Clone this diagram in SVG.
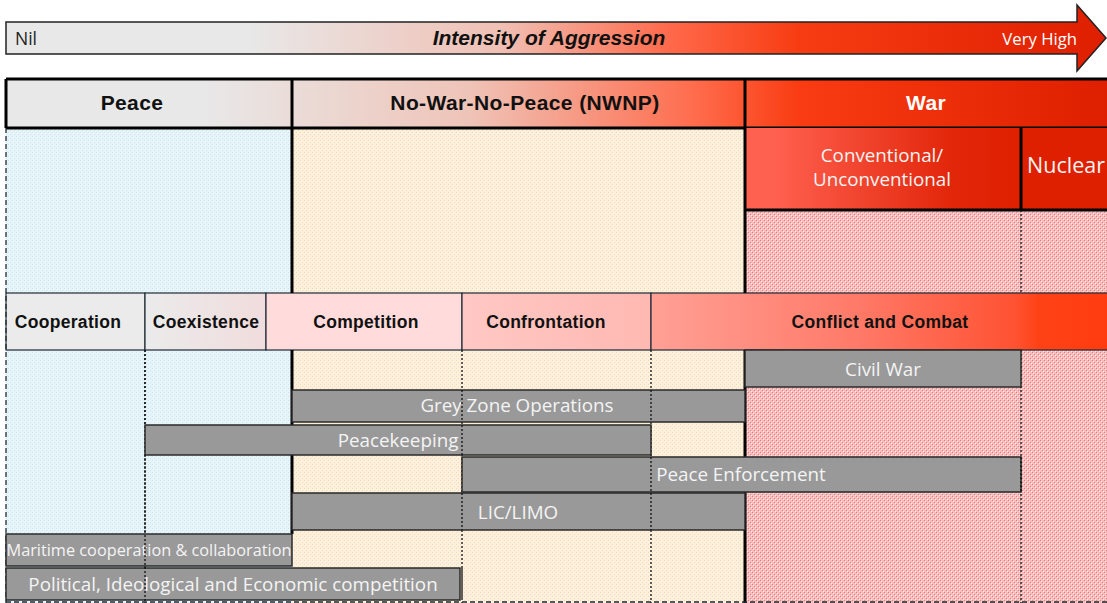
<svg xmlns="http://www.w3.org/2000/svg" width="1107" height="603" viewBox="0 0 1107 603">
  <defs>
    <linearGradient id="gArrow" gradientUnits="userSpaceOnUse" x1="6" y1="0" x2="1107" y2="0">
      <stop offset="0.22" stop-color="#e8e8e8"/>
      <stop offset="0.45" stop-color="#f0c0b4"/>
      <stop offset="0.6" stop-color="#ff6a4c"/>
      <stop offset="0.72" stop-color="#f73c12"/>
      <stop offset="1" stop-color="#de1f00"/>
    </linearGradient>
    <linearGradient id="gHead" gradientUnits="userSpaceOnUse" x1="6" y1="0" x2="1107" y2="0">
      <stop offset="0.18" stop-color="#e8e8e8"/>
      <stop offset="0.42" stop-color="#efc4b8"/>
      <stop offset="0.63" stop-color="#ff6a4a"/>
      <stop offset="0.72" stop-color="#f93c12"/>
      <stop offset="1" stop-color="#de1f00"/>
    </linearGradient>
    <linearGradient id="gConv" gradientUnits="userSpaceOnUse" x1="745" y1="0" x2="1021" y2="0">
      <stop offset="0.1" stop-color="#ff6150"/>
      <stop offset="0.75" stop-color="#e2260a"/>
      <stop offset="1" stop-color="#df2000"/>
    </linearGradient>
    <linearGradient id="gCoex" gradientUnits="userSpaceOnUse" x1="145" y1="0" x2="266" y2="0">
      <stop offset="0" stop-color="#ebebeb"/>
      <stop offset="1" stop-color="#f1dcdc"/>
    </linearGradient>
    <linearGradient id="gConf" gradientUnits="userSpaceOnUse" x1="462" y1="0" x2="651" y2="0">
      <stop offset="0" stop-color="#ffc8c4"/>
      <stop offset="1" stop-color="#ffb8b2"/>
    </linearGradient>
    <linearGradient id="gCombat" gradientUnits="userSpaceOnUse" x1="651" y1="0" x2="1107" y2="0">
      <stop offset="0" stop-color="#ffa096"/>
      <stop offset="0.45" stop-color="#ff7a68"/>
      <stop offset="0.8" stop-color="#ff5232"/>
      <stop offset="0.85" stop-color="#ff4216"/>
      <stop offset="1" stop-color="#ff3c10"/>
    </linearGradient>
    <!-- fine dotted textures for the three zones -->
    <pattern id="pBlue" width="4" height="4" patternUnits="userSpaceOnUse">
      <rect width="4" height="4" fill="#e6f4fa"/>
      <rect x="0" y="0" width="1" height="1" fill="#c8e6f2"/>
      <rect x="2" y="2" width="1" height="1" fill="#c8e6f2"/>
      <rect x="1" y="1" width="1" height="1" fill="#f6fbfd"/>
    </pattern>
    <pattern id="pOrange" width="4" height="4" patternUnits="userSpaceOnUse">
      <rect width="4" height="4" fill="#fcf0dc"/>
      <rect x="0" y="0" width="1" height="1" fill="#f5d9ae"/>
      <rect x="2" y="2" width="1" height="1" fill="#f5d9ae"/>
      <rect x="1" y="1" width="1" height="1" fill="#fffaf2"/>
    </pattern>
    <pattern id="pPink" width="4" height="4" patternUnits="userSpaceOnUse">
      <rect width="4" height="4" fill="#f7bcbc"/>
      <rect x="0" y="0" width="1" height="1" fill="#e87c7c"/>
      <rect x="2" y="2" width="1" height="1" fill="#e87c7c"/>
      <rect x="1" y="1" width="1" height="1" fill="#ffecec"/>
      <rect x="3" y="3" width="1" height="1" fill="#ffecec"/>
    </pattern>
  </defs>
  <style>
    .hd { font-family: "Liberation Sans", Arial, sans-serif; font-weight: bold; font-size: 21px; letter-spacing: 0.4px; text-anchor: middle; }
    .cat { font-family: "Liberation Sans", Arial, sans-serif; font-weight: bold; font-size: 17.5px; letter-spacing: 0.3px; text-anchor: middle; fill: #111; }
    .lt { font-family: "Open Sans", "Liberation Sans", sans-serif; font-size: 18.8px; fill: #f4f4f4; text-anchor: middle; }
    .sm { font-size: 16.3px; }
    .big { font-size: 21.5px; }
    .bar { fill: #999999; stroke: #2a2a2a; stroke-width: 1.5; }
    .cell { stroke: #1e2b36; stroke-width: 1.2; }
    .thick { stroke: #000; stroke-width: 3; fill: none; }
    .dot { stroke: #111; stroke-width: 1.3; stroke-dasharray: 2 2; fill: none; }
  </style>

  <!-- intensity scale arrow -->
  <g id="scale">
    <path d="M6 22 H1077 V5 L1106 38 L1077 71 V54 H6 Z" fill="url(#gArrow)" stroke="#222" stroke-width="1.5"/>
    <text x="15" y="45" font-family="Open Sans, Liberation Sans, sans-serif" font-size="17.5" fill="#222">Nil</text>
    <text x="549" y="45" font-family="Liberation Sans, Arial, sans-serif" font-size="21" font-weight="bold" font-style="italic" text-anchor="middle" fill="#111">Intensity of Aggression</text>
    <text x="1077" y="45" font-family="Open Sans, Liberation Sans, sans-serif" font-size="16.7" fill="#fff" text-anchor="end">Very High</text>
  </g>

  <!-- zone backgrounds -->
  <g id="zones">
    <rect x="6" y="128" width="286" height="475" fill="url(#pBlue)"/>
    <rect x="292" y="128" width="453" height="475" fill="url(#pOrange)"/>
    <rect x="745" y="210" width="362" height="393" fill="url(#pPink)"/>
  </g>

  <!-- header row -->
  <g id="header">
    <rect x="6" y="79" width="1105" height="49" fill="url(#gHead)"/>
    <path class="thick" d="M6 79 H1107 M6 128 H1107 M6 79 V128"/>
    <text class="hd" x="132" y="110" fill="#111">Peace</text>
    <text class="hd" x="525" y="110" fill="#111">No-War-No-Peace (NWNP)</text>
    <text class="hd" x="926" y="110" fill="#fff">War</text>
  </g>

  <g id="war-types">
    <rect x="745" y="128" width="276" height="82" fill="url(#gConv)"/>
    <rect x="1021" y="128" width="90" height="82" fill="#df2000"/>
    <path class="thick" d="M745 210 H1107 M1021 128 V210"/>
    <text class="lt" x="882" y="162" fill="#fff">Conventional/</text>
    <text class="lt" x="882" y="186" fill="#fff">Unconventional</text>
    <text class="lt big" x="1066" y="173" fill="#fff">Nuclear</text>
  </g>

  <!-- relationship categories -->
  <g id="categories">
    <rect class="cell" x="6" y="293" width="139" height="57" fill="#ebebeb"/>
    <rect class="cell" x="145" y="293" width="121" height="57" fill="url(#gCoex)"/>
    <rect class="cell" x="266" y="293" width="196" height="57" fill="#ffdcdb"/>
    <rect class="cell" x="462" y="293" width="189" height="57" fill="url(#gConf)"/>
    <rect class="cell" x="651" y="293" width="460" height="57" fill="url(#gCombat)"/>
    <text class="cat" x="68" y="328">Cooperation</text>
    <text class="cat" x="206" y="328">Coexistence</text>
    <text class="cat" x="366" y="328">Competition</text>
    <text class="cat" x="546" y="328">Confrontation</text>
    <text class="cat" x="880" y="328">Conflict and Combat</text>
  </g>

  <!-- zone dividers -->
  <g id="dividers">
    <path class="thick" d="M292 79 V293 M292 350 V534 M745 79 V293 M745 350 V603"/>
    <path class="dot" d="M145 350 V603 M462 350 V603 M651 350 V603 M1021 210 V293 M1021 350 V603"/>
    <path d="M6 128 V603 M6 602 H1107" stroke="#1e2b36" stroke-width="1.3" stroke-dasharray="5 3" fill="none"/>
  </g>

  <!-- activity bars -->
  <g id="civil-war">
    <rect class="bar" x="745" y="350" width="276" height="37"/>
    <text class="lt" x="883" y="376">Civil War</text>
  </g>
  <g id="grey-zone">
    <rect class="bar" x="292" y="390" width="453" height="32"/>
    <text class="lt" x="517" y="412">Grey Zone Operations</text>
  </g>
  <g id="peacekeeping">
    <rect class="bar" x="145" y="425" width="506" height="30"/>
    <text class="lt" x="398" y="447">Peacekeeping</text>
  </g>
  <g id="peace-enforcement">
    <rect class="bar" x="462" y="457" width="559" height="35"/>
    <text class="lt" x="741" y="481">Peace Enforcement</text>
  </g>
  <g id="lic-limo">
    <rect class="bar" x="292" y="493" width="453" height="37"/>
    <text class="lt" x="518" y="519">LIC/LIMO</text>
  </g>
  <g id="maritime">
    <rect class="bar" x="6" y="534" width="286" height="32"/>
    <text class="lt sm" x="149" y="556">Maritime cooperation &amp; collaboration</text>
  </g>
  <g id="political">
    <rect class="bar" x="6" y="568" width="454" height="32"/>
    <text class="lt" x="233" y="591">Political, Ideological and Economic competition</text>
  </g>

  <!-- dotted guides running over the lower bars -->
  <g id="guides">
    <path class="dot" d="M145 350 V425 M145 455 V603 M462 390 V422 M462 425 V455 M462 493 V530 M462 568 V600 M651 390 V422 M651 457 V530 M1021 457 V492"/>
  </g>
</svg>
